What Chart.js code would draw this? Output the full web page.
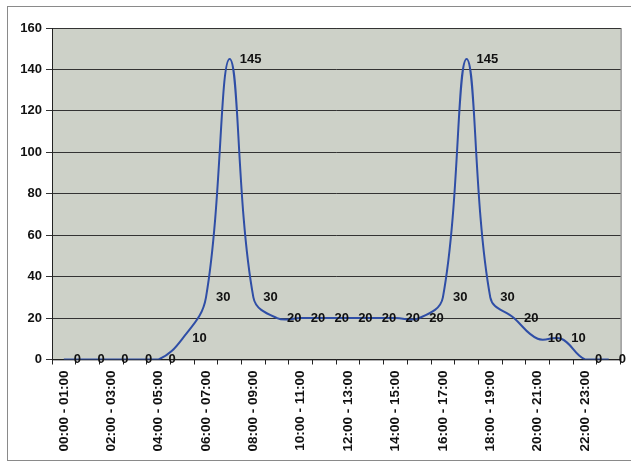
<!DOCTYPE html>
<html lang="en">
<head>
    <meta charset="UTF-8">
    <title>Trafic par heure</title>
    <script src="https://cdn.jsdelivr.net/npm/chart.js"></script>
    <style>
        body { margin: 0; background: #fff; }
        #frame { position: absolute; left: 7px; top: 6px; width: 650px; height: 453px; border: 1px solid #8a8a8a; }
        #chart { position: absolute; left: 0; top: 0; }
    </style>
</head>
<body>
    <div id="frame"></div>
    <canvas id="chart" width="631" height="463"></canvas>

    <script>
        const hourLabels = [
            '00:00 - 01:00', '01:00 - 02:00', '02:00 - 03:00', '03:00 - 04:00',
            '04:00 - 05:00', '05:00 - 06:00', '06:00 - 07:00', '07:00 - 08:00',
            '08:00 - 09:00', '09:00 - 10:00', '10:00 - 11:00', '11:00 - 12:00',
            '12:00 - 13:00', '13:00 - 14:00', '14:00 - 15:00', '15:00 - 16:00',
            '16:00 - 17:00', '17:00 - 18:00', '18:00 - 19:00', '19:00 - 20:00',
            '20:00 - 21:00', '21:00 - 22:00', '22:00 - 23:00', '23:00 - 24:00'
        ];
        const values = [0, 0, 0, 0, 0, 10, 30, 145, 30, 20, 20, 20, 20, 20, 20, 20, 30, 145, 30, 20, 10, 10, 0, 0];
        const yMin = 0;
        const yMax = 160;
        const yStep = 20;

        const font = '"Liberation Sans", Arial, sans-serif';

        // fond gris de la zone de tracé + cadre
        const plotArea = {
            id: 'plotArea',
            beforeDraw(chart) {
                const { ctx, chartArea: a } = chart;
                ctx.save();
                ctx.fillStyle = '#cdd1c8';
                ctx.fillRect(a.left, a.top, a.width, a.height);
                ctx.strokeStyle = '#666';
                ctx.lineWidth = 1;
                ctx.strokeRect(a.left + 0.5, a.top + 0.5, a.width, a.height);
                ctx.restore();
            }
        };

        // étiquettes de valeur à droite de chaque point
        const valueLabels = {
            id: 'valueLabels',
            afterDatasetsDraw(chart) {
                const ctx = chart.ctx;
                const meta = chart.getDatasetMeta(0);
                ctx.save();
                ctx.font = 'bold 13px ' + font;
                ctx.fillStyle = '#111';
                ctx.textAlign = 'left';
                ctx.textBaseline = 'middle';
                meta.data.forEach((pt, i) => {
                    ctx.fillText(values[i], pt.x + 10, pt.y);
                });
                ctx.restore();
            }
        };

        const ctx = document.getElementById('chart').getContext('2d');
        const chart = new Chart(ctx, {
            type: 'line',
            data: {
                labels: hourLabels,
                datasets: [{
                    data: values,
                    borderColor: '#2f4ea6',
                    borderWidth: 2,
                    pointRadius: 0,
                    tension: 0.4,
                    fill: false
                }]
            },
            options: {
                responsive: false,
                animation: false,
                layout: { padding: { top: 28, right: 3, left: 0, bottom: 0 } },
                plugins: {
                    legend: { display: false },
                    tooltip: { enabled: false }
                },
                scales: {
                    x: {
                        offset: true,
                        grid: { offset: true, drawOnChartArea: false, tickLength: 5, color: '#222' },
                        border: { color: '#222' },
                        ticks: {
                            autoSkip: false,
                            minRotation: 90,
                            maxRotation: 90,
                            padding: 6,
                            color: '#111',
                            font: { family: font, size: 13.5, weight: 'bold' },
                            callback(v, i) { return i % 2 === 0 ? this.getLabelForValue(v) : ''; }
                        },
                        afterFit(s) { s.height = 103.5; }
                    },
                    y: {
                        min: yMin,
                        max: yMax,
                        grid: { color: '#333', tickLength: 6 },
                        border: { color: '#222' },
                        ticks: {
                            stepSize: yStep,
                            padding: 4,
                            color: '#111',
                            font: { family: font, size: 13, weight: 'bold' }
                        },
                        afterFit(s) { s.width = 52; }
                    }
                }
            },
            plugins: [plotArea, valueLabels]
        });
    </script>
</body>
</html>
